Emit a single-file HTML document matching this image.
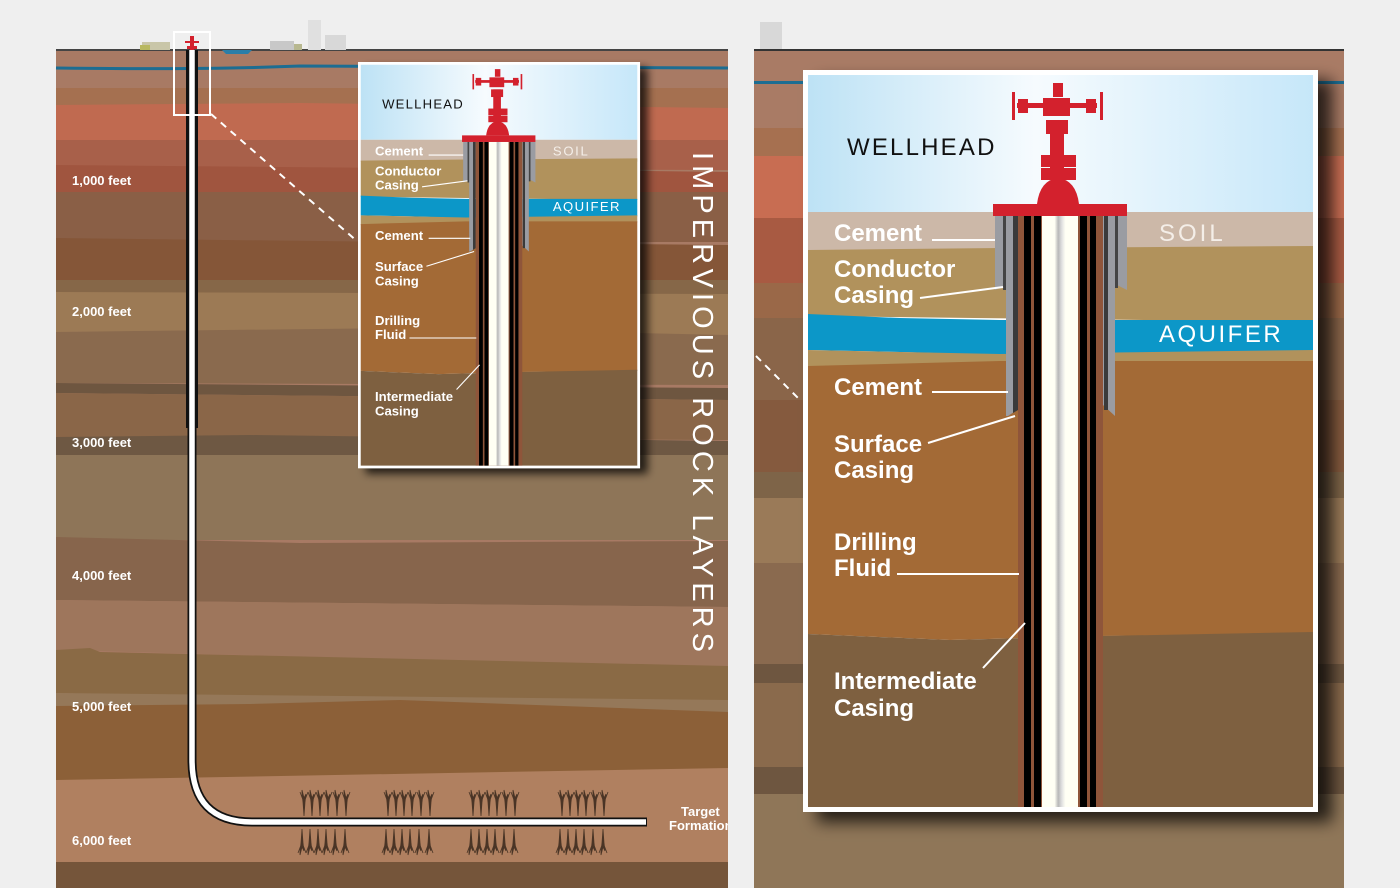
<!DOCTYPE html>
<html><head><meta charset="utf-8"><style>
html,body{margin:0;padding:0;background:#efefef;}
svg{display:block;font-family:"Liberation Sans",sans-serif;}
.lb{font-weight:bold;fill:#fff;font-size:24px;}
.dp{font-weight:bold;fill:#fff;font-size:13px;}
</style></head><body>
<svg width="1400" height="888" viewBox="0 0 1400 888" xmlns="http://www.w3.org/2000/svg">
<defs>
<linearGradient id="sky" x1="0" x2="1" y1="0" y2="0">
<stop offset="0" stop-color="#bde2f5"/><stop offset="0.45" stop-color="#f6fbfe"/><stop offset="1" stop-color="#c6e7f9"/>
</linearGradient>
<linearGradient id="rod" x1="0" x2="1">
<stop offset="0" stop-color="#fffff4"/><stop offset="0.35" stop-color="#fffff4"/><stop offset="0.45" stop-color="#b8b8b8"/><stop offset="0.55" stop-color="#e0e0e0"/><stop offset="0.65" stop-color="#fffff4"/><stop offset="1" stop-color="#fffff4"/>
</linearGradient>
<filter id="sh" x="-10%" y="-10%" width="130%" height="130%"><feDropShadow dx="14" dy="10" stdDeviation="8" flood-color="#000" flood-opacity="0.75"/></filter>
<g id="inset">
<rect x="803" y="70" width="515" height="742" fill="#fff" filter="url(#sh)"/>
<rect x="808" y="75" width="505" height="137" fill="url(#sky)"/>
<rect x="808" y="212" width="505" height="40" fill="#ccb8a8"/>
<path d="M808 250 L1000 248 L1313 246 L1313 322 L808 316Z" fill="#b1925c"/>
<path d="M808 314 L900 318 L1000 320 L1313 320 L1313 352 L1000 355 L900 352 L808 350Z" fill="#0c97c8"/>
<path d="M808 350 L1000 354 L1313 350 L1313 363 L808 368Z" fill="#b1925c"/>
<path d="M808 366 L1000 361 L1313 361 L1313 634 L1100 636 L950 640 L808 634Z" fill="#a36a36"/>
<path d="M808 634 L950 640 L1100 636 L1313 632 L1313 807 L808 807Z" fill="#7e6040"/>
<path d="M995 216 L1007 216 L1007 285 L995 290Z" fill="#9a9ca2"/>
<path d="M1003 216 L1009 216 L1009 290 L1003 290Z" fill="#444"/>
<path d="M1110 216 L1127 216 L1127 290 L1117 285 L1110 285Z" fill="#9a9ca2"/>
<path d="M1112 216 L1118 216 L1118 288 L1112 288Z" fill="#444"/>
<path d="M1006 216 L1017 216 L1017 410 L1008 416 L1006 416Z" fill="#9a9ca2"/>
<path d="M1013 216 L1018 216 L1018 410 L1013 413Z" fill="#3a3a3a"/>
<path d="M1103 216 L1115 216 L1115 416 L1103 405Z" fill="#9a9ca2"/>
<path d="M1104 216 L1108 216 L1108 410 L1104 410Z" fill="#3a3a3a"/>
<rect x="1018" y="216" width="85" height="591" fill="#8f553a"/>
<rect x="1024" y="216" width="7" height="591" fill="#000"/>
<rect x="1034" y="216" width="7" height="591" fill="#000"/>
<rect x="1042" y="216" width="36" height="591" fill="url(#rod)"/>
<rect x="1080" y="216" width="7" height="591" fill="#000"/>
<rect x="1090" y="216" width="6" height="591" fill="#000"/>
<g fill="#d3212d">
<rect x="993" y="204" width="134" height="12"/>
<path d="M1037 204 Q1040 180 1058 178 Q1076 180 1079 204Z"/>
<rect x="1041" y="155" width="35" height="12"/><rect x="1041" y="168" width="35" height="12"/>
<rect x="1050" y="120" width="14" height="60"/>
<rect x="1046" y="120" width="22" height="14"/>
<rect x="1043" y="98" width="27" height="18"/>
<rect x="1053" y="83" width="10" height="14"/>
<rect x="1017" y="103" width="80" height="5"/>
<rect x="1018" y="99" width="10" height="14"/><rect x="1086" y="99" width="10" height="14"/>
<rect x="1012" y="92" width="3" height="28"/><rect x="1100" y="92" width="3" height="28"/>
</g>
<text x="847" y="155" font-size="24" letter-spacing="2.2" fill="#111">WELLHEAD</text>
<text x="1159" y="241" font-size="24" letter-spacing="3" fill="#f4eee8">SOIL</text>
<text x="1159" y="342" font-size="24" letter-spacing="2.5" fill="#fff">AQUIFER</text>
<g class="lb">
<text x="834" y="241">Cement</text>
<text x="834" y="277">Conductor</text><text x="834" y="303">Casing</text>
<text x="834" y="395">Cement</text>
<text x="834" y="452">Surface</text><text x="834" y="478">Casing</text>
<text x="834" y="550">Drilling</text><text x="834" y="576">Fluid</text>
<text x="834" y="689">Intermediate</text><text x="834" y="716">Casing</text>
</g>
<g stroke="#fff" stroke-width="2" fill="none">
<line x1="932" y1="240" x2="995" y2="240"/>
<line x1="920" y1="298" x2="1003" y2="287"/>
<line x1="932" y1="392" x2="1008" y2="392"/>
<line x1="928" y1="443" x2="1015" y2="416"/>
<line x1="897" y1="574" x2="1019" y2="574"/>
<line x1="983" y1="668" x2="1025" y2="623"/>
</g>
</g>
<g id="frac">
<path d="M0 0 L2 8 L4 4 L3 12 L2 26 L1 12 L0 4Z M-2 2 L1 10 M6 2 L3 10" fill="#4a3526" stroke="#4a3526" stroke-width="0.8"/>
</g>
<g id="fr6">
<use href="#frac" x="0" y="0"/><use href="#frac" x="8" y="0"/><use href="#frac" x="16" y="0"/><use href="#frac" x="24" y="0"/><use href="#frac" x="33" y="0"/><use href="#frac" x="42" y="0"/>
<g transform="translate(0,65) scale(1,-1)"><use href="#frac" x="-2"/><use href="#frac" x="6"/><use href="#frac" x="14"/><use href="#frac" x="22"/><use href="#frac" x="31"/><use href="#frac" x="41"/></g>
</g>
</defs>

<g>
<rect x="56" y="50" width="672" height="838" fill="#a87a64"/>
<rect x="56" y="88" width="672" height="20" fill="#a57050"/>
<path d="M56 105 L300 103 L728 108 L728 140 L56 140Z" fill="#c06a50"/>
<path d="M56 140 L728 140 L728 170 L56 168Z" fill="#a8604a"/>
<path d="M56 165 L400 168 L728 172 L728 192 L56 192Z" fill="#a0553f"/>
<rect x="56" y="192" width="672" height="50" fill="#8a5f46"/>
<path d="M56 238 L400 242 L728 245 L728 282 L56 280Z" fill="#855638"/>
<rect x="56" y="280" width="672" height="14" fill="#866748"/>
<path d="M56 292 L728 294 L728 335 L400 330 L56 332Z" fill="#9c7a55"/>
<path d="M56 332 L400 328 L728 335 L728 385 L56 383Z" fill="#8a6a4e"/>
<path d="M56 383 L300 385 L728 388 L728 400 L56 393Z" fill="#6e5640"/>
<path d="M56 393 L728 400 L728 440 L56 437Z" fill="#8a6648"/>
<path d="M56 437 L250 435 L728 441 L728 456 L56 455Z" fill="#6e5843"/>
<rect x="56" y="455" width="672" height="85" fill="#8e7558"/>
<path d="M56 537 L300 543 L728 541 L728 607 L56 600Z" fill="#87654c"/>
<path d="M56 600 L728 607 L728 668 L56 650Z" fill="#9e765c"/>
<path d="M56 650 L90 648 L100 652 L728 666 L728 710 L56 693Z" fill="#8a6a45"/>
<path d="M56 693 L728 700 L728 712 L56 710Z" fill="#957859"/>
<path d="M56 706 L250 704 L400 700 L728 712 L728 775 L400 780 L56 782Z" fill="#8c6038"/>
<path d="M56 780 L728 768 L728 862 L56 862Z" fill="#b08060"/>
<rect x="56" y="862" width="672" height="26" fill="#75553a"/>
<path d="M56 68 Q200 70 300 66 Q500 66 728 68" stroke="#1c6d92" stroke-width="3" fill="none"/>
<rect x="56" y="49" width="672" height="2" fill="#444"/>
<path d="M222 50 L252 50 L248 54 L226 54Z" fill="#2a7ea8"/>
<rect x="142" y="42" width="28" height="8" fill="#c9c6a8"/><rect x="140" y="45" width="10" height="5" fill="#b8b860"/>
<rect x="270" y="41" width="24" height="9" fill="#c8c8c8"/><rect x="294" y="44" width="8" height="6" fill="#b8b890"/>
<rect x="308" y="20" width="13" height="30" fill="#e0e0e0"/><rect x="325" y="35" width="21" height="15" fill="#d8d8d8"/>
<path d="M192 50 L192 760 Q192 822 252 822 L647 822" stroke="#111" stroke-width="9" fill="none"/>
<path d="M192 50 L192 760 Q192 822 252 822 L646 822" stroke="#fff" stroke-width="5.5" fill="none"/>
<rect x="186" y="50" width="3" height="378" fill="#111"/><rect x="195" y="50" width="3" height="378" fill="#111"/>
<g fill="#d3212d"><rect x="190" y="36" width="4" height="14"/><rect x="185" y="41" width="14" height="2"/><rect x="187" y="46" width="10" height="3"/></g>
<rect x="174" y="32" width="36" height="83" fill="none" stroke="#fff" stroke-width="2"/>
<line x1="211" y1="114" x2="358" y2="242" stroke="#fff" stroke-width="2" stroke-dasharray="7,6"/>
<use href="#fr6" x="302" y="790"/><use href="#fr6" x="386" y="790"/><use href="#fr6" x="471" y="790"/><use href="#fr6" x="560" y="790"/>
<g class="dp">
<text x="72" y="185">1,000 feet</text><text x="72" y="316">2,000 feet</text><text x="72" y="447">3,000 feet</text>
<text x="72" y="580">4,000 feet</text><text x="72" y="711">5,000 feet</text><text x="72" y="845">6,000 feet</text>
</g>
<text x="681" y="816" class="dp">Target</text><text x="669" y="830" class="dp">Formation</text>
<text transform="translate(693,152) rotate(90)" font-size="29" fill="#fff" textLength="500" lengthAdjust="spacing">IMPERVIOUS ROCK LAYERS</text>
</g>
<rect x="728" y="0" width="26" height="888" fill="#efefef"/>
<use href="#inset" transform="translate(358,62) scale(0.5476) translate(-803,-70)"/>

<g>
<rect x="754" y="50" width="590" height="838" fill="#8f7658"/>
<rect x="754" y="50" width="590" height="78" fill="#a97b65"/>
<rect x="754" y="128" width="590" height="28" fill="#a67050"/>
<rect x="754" y="156" width="590" height="62" fill="#c86d52"/>
<rect x="754" y="218" width="590" height="65" fill="#a85a42"/>
<rect x="754" y="283" width="590" height="35" fill="#9a6848"/>
<rect x="754" y="318" width="590" height="82" fill="#8a6549"/>
<rect x="754" y="400" width="590" height="72" fill="#855a3e"/>
<rect x="754" y="472" width="590" height="26" fill="#7e6448"/>
<rect x="754" y="498" width="590" height="65" fill="#9a7a58"/>
<rect x="754" y="563" width="590" height="101" fill="#8a6a4f"/>
<rect x="754" y="664" width="590" height="19" fill="#6e5640"/>
<rect x="754" y="683" width="590" height="84" fill="#8a6a4c"/>
<rect x="754" y="767" width="590" height="27" fill="#6e5640"/>
<rect x="754" y="81" width="590" height="3" fill="#1c6d92"/>
<rect x="754" y="49" width="590" height="2" fill="#333"/>
<rect x="760" y="22" width="22" height="27" fill="#d8d8d8"/>
<line x1="756" y1="356" x2="800" y2="400" stroke="#fff" stroke-width="2" stroke-dasharray="7,6"/>
<use href="#inset"/>
</g>
<rect x="1344" y="0" width="56" height="888" fill="#efefef"/>
</svg>
</body></html>
